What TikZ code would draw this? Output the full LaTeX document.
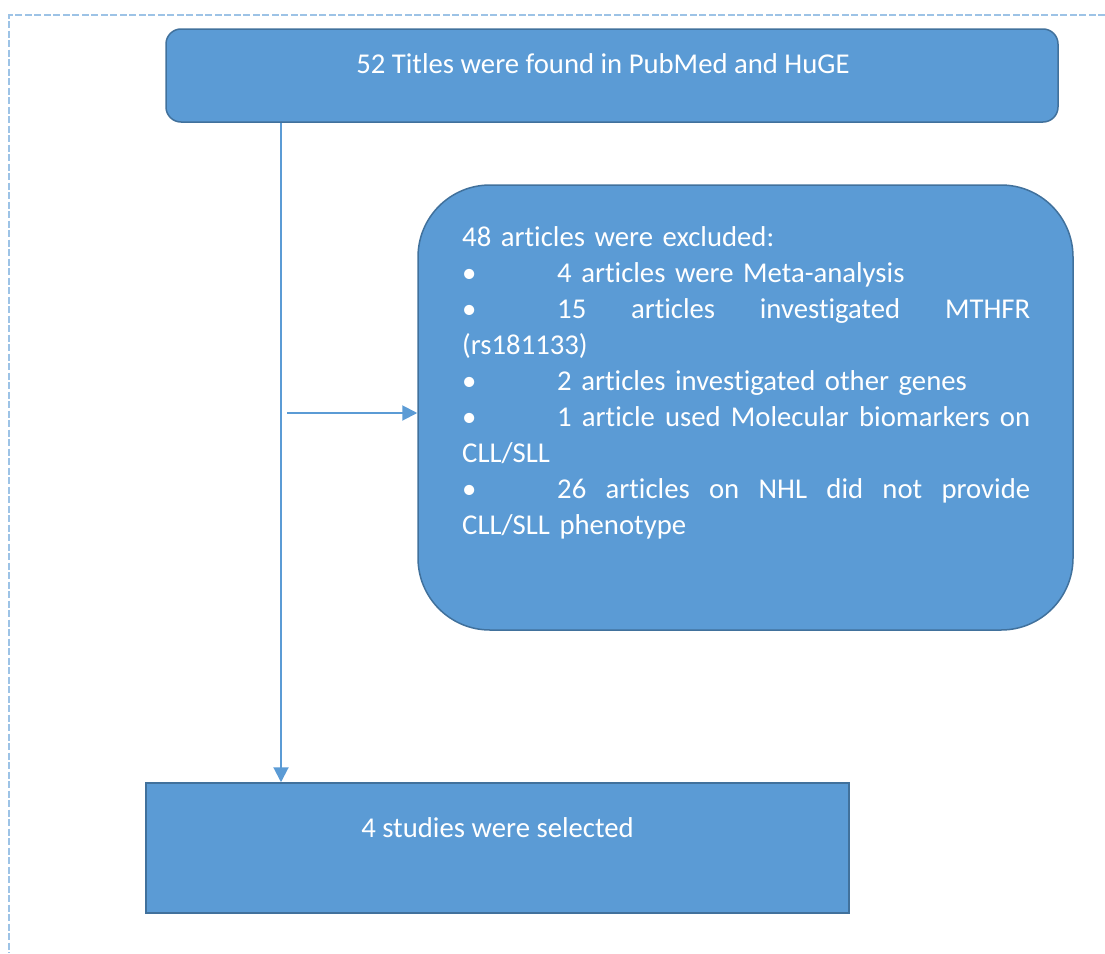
\documentclass[tikz,border=0pt]{standalone}
\usepackage{fontspec}
\setmainfont{Carlito}[Ligatures={NoCommon}]
\usetikzlibrary{arrows.meta,calc}
\definecolor{boxfill}{HTML}{5B9BD5}
\definecolor{boxline}{HTML}{41719C}
\definecolor{framecol}{HTML}{9DC3E6}
\newcommand{\bul}{\makebox[95pt][l]{•}}
\newcommand{\jline}[1]{\leavevmode\hbox to 568pt{#1}}
\begin{document}
\begin{tikzpicture}[x=1pt,y=-1pt,
  box/.style={draw=boxline, fill=boxfill, line width=1.5pt, text=white,
    font=\fontsize{28.7}{35}\selectfont, inner sep=0pt},
  txt/.style={text=white, font=\fontsize{28.7}{36}\selectfont, inner sep=0pt},
  conn/.style={draw=boxfill, line width=2pt, -{Triangle[length=15pt,width=15pt]}},
  framestyle/.style={draw=framecol, line width=2pt, dash pattern=on 7pt off 2.5pt}]
\useasboundingbox (0,0) rectangle (1105,953);
\draw[framestyle] (1105,15) -- (9,15) -- (9,953);

\node[box, rounded corners=15pt, minimum width=892pt, minimum height=93pt,
  text height=20pt, text depth=25pt] (top) at (612,75.5)
  {52 Titles were found in PubMed and HuGE\hspace*{18pt}};

\node[box, rounded corners=72pt, minimum width=655pt, minimum height=445pt]
  (excl) at (745.5,407.5) {};
\node[txt, anchor=north west, text width=568pt, align=left] (excltext) at (462,220.8)
  {\strut 48 articles were excluded:\\
   \bul 4 articles were Meta-analysis\\
   \jline{\bul 15\hfill articles\hfill investigated\hfill MTHFR}\\
   (rs181133)\\
   \bul 2 articles investigated other genes\\
   \jline{\bul 1\hfill article\hfill used\hfill Molecular\hfill biomarkers\hfill on}\\
   CLL/SLL\\
   \jline{\bul 26\hfill articles\hfill on\hfill NHL\hfill did\hfill not\hfill provide}\\
   CLL/SLL phenotype};

\node[box, minimum width=703pt, minimum height=130pt,
  text height=18pt, text depth=40pt] (sel) at (497.5,848)
  {4 studies were selected};

\coordinate (trunk) at (281,0);
\coordinate (branch) at (287,413);
\draw[conn] (top.south -| trunk) -- (sel.north -| trunk);
\draw[conn] (branch) -- (branch -| excl.west);
\end{tikzpicture}
\end{document}
